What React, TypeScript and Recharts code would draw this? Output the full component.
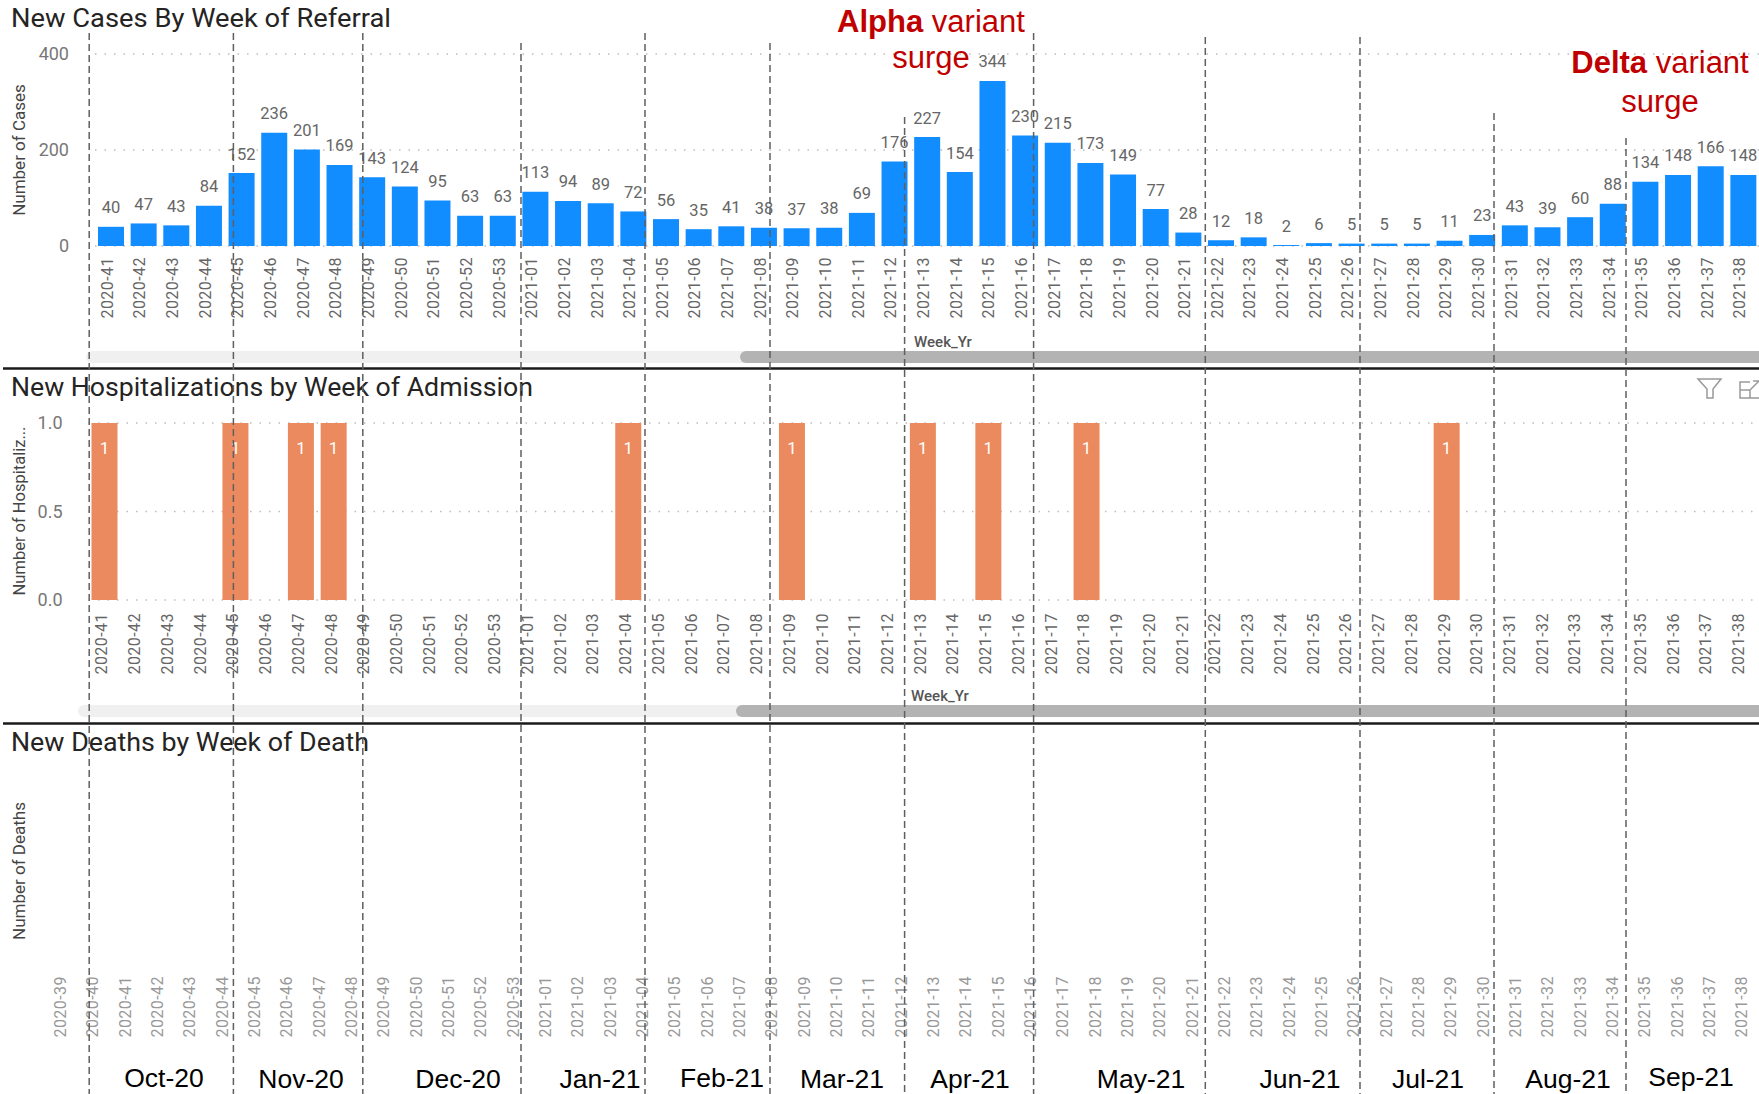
import { Bar, BarChart, CartesianGrid, LabelList, ReferenceLine, ComposedChart, Line, XAxis, YAxis } from "recharts";

const caseWeeks = [
  "2020-41", "2020-42", "2020-43", "2020-44", "2020-45", "2020-46", "2020-47", "2020-48", "2020-49", "2020-50",
  "2020-51", "2020-52", "2020-53", "2021-01", "2021-02", "2021-03", "2021-04", "2021-05", "2021-06", "2021-07",
  "2021-08", "2021-09", "2021-10", "2021-11", "2021-12", "2021-13", "2021-14", "2021-15", "2021-16", "2021-17",
  "2021-18", "2021-19", "2021-20", "2021-21", "2021-22", "2021-23", "2021-24", "2021-25", "2021-26", "2021-27",
  "2021-28", "2021-29", "2021-30", "2021-31", "2021-32", "2021-33", "2021-34", "2021-35", "2021-36", "2021-37",
  "2021-38",
];
const caseValues = [
  40, 47, 43, 84, 152, 236, 201, 169, 143, 124, 95, 63, 63, 113, 94, 89, 72, 56, 35, 41, 38, 37, 38, 69, 176, 227,
  154, 344, 230, 215, 173, 149, 77, 28, 12, 18, 2, 6, 5, 5, 5, 11, 23, 43, 39, 60, 88, 134, 148, 166, 148,
];
const hospValues = [
  1, null, null, null, 1, null, 1, 1, null, null, null, null, null, null, null, null, 1, null, null, null, null, 1,
  null, null, null, 1, null, 1, null, null, 1, null, null, null, null, null, null, null, null, null, null, 1, null,
  null, null, null, null, null, null, null, null,
];
const deathWeeks = ["2020-39", "2020-40", ...caseWeeks];
const deathValues = [
  0, 0, 0, 0, 0, 0, 0, 0, 0, 0, 0, 0, 0, 0, 0, 0, 0, 0, 0, 0, 0, 0, 0, 0, 0, 0, 0, 0, 0, 0, 0, 0, 0, 0, 0, 0, 0, 0,
  0, 0, 0, 0, 0, 0, 0, 0, 0, 0, 0, 0, 0, 0, 0,
];

const months = ["Oct-20", "Nov-20", "Dec-20", "Jan-21", "Feb-21", "Mar-21", "Apr-21", "May-21", "Jun-21", "Jul-21", "Aug-21", "Sep-21"];
const monthX = [164, 301, 458, 600, 722, 842, 970, 1141, 1300, 1428, 1568, 1691];
const monthY = [1087, 1088, 1088, 1088, 1087, 1088, 1088, 1088, 1088, 1088, 1088, 1086];

// month boundaries: x position and where each dashed line starts
const dividerX = [89.2, 233.4, 362.8, 521, 645, 770, 904.6, 1033.6, 1205.3, 1360, 1494, 1626];
const dividerTop = [33, 33, 33, 43, 33, 43, 117, 33, 37, 37, 113, 138];

const casesData = caseWeeks.map((week, i) => ({ week, cases: caseValues[i] }));
const hospData = caseWeeks.map((week, i) => ({ week, hosp: hospValues[i] }));
const deathsData = deathWeeks.map((week, i) => ({ week, deaths: deathValues[i] }));
const frameData = [
  { x: 0, y: 0 },
  { x: 1759, y: 1094 },
];

const FONT = "Roboto, sans-serif";
const ARIAL = "'Liberation Sans', Arial, sans-serif";
const RED = "#C00000";

function WeekTick({ x, y, payload, dx, fill }: any) {
  return (
    <text
      transform={`translate(${x + dx},${y}) rotate(-90)`}
      textAnchor="end"
      dominantBaseline="central"
      fontFamily={FONT}
      fontSize={16}
      letterSpacing={0.45}
      fill={fill}
    >
      {payload.value}
    </text>
  );
}

const box = (top: number): React.CSSProperties => ({ position: "absolute", left: 0, top });

export default function App() {
  return (
    <div style={{ position: "absolute", left: 0, top: 0, width: 1759, height: 1094, overflow: "hidden", background: "#fff" }}>
      <div style={box(0)}>
        <BarChart width={1760} height={340} data={casesData} margin={{ top: 54, right: 0, bottom: 0, left: 0 }}>
          <CartesianGrid vertical={false} stroke="#bdbdbd" strokeWidth={1.5} strokeDasharray="1.5 8" />
          <XAxis
            dataKey="week"
            interval={0}
            height={94}
            axisLine={false}
            tickLine={false}
            tickSize={0}
            tickMargin={11}
            tick={<WeekTick dx={-4} fill="#666" />}
          />
          <YAxis
            width={95}
            domain={[0, 400]}
            ticks={[0, 200, 400]}
            axisLine={false}
            tickLine={false}
            tickSize={0}
            tickMargin={26}
            tick={{ fontFamily: FONT, fontSize: 18, fill: "#777" }}
          />
          <Bar dataKey="cases" fill="#118DFF" barSize={26} isAnimationActive={false}>
            <LabelList dataKey="cases" position="top" offset={13.5} fontFamily={FONT} fontSize={16.5} fill="#666" />
          </Bar>
        </BarChart>
      </div>

      <div style={box(370)}>
        <BarChart width={1758} height={320} data={hospData} margin={{ top: 53, right: 0, bottom: 0, left: 0 }}>
          <CartesianGrid vertical={false} stroke="#bdbdbd" strokeWidth={1.5} strokeDasharray="1.5 8" />
          <XAxis
            dataKey="week"
            interval={0}
            height={90}
            axisLine={false}
            tickLine={false}
            tickSize={0}
            tickMargin={13}
            tick={<WeekTick dx={-3} fill="#666" />}
          />
          <YAxis
            width={88.5}
            domain={[0, 1]}
            ticks={[0, 0.5, 1]}
            tickFormatter={(v: number) => v.toFixed(1)}
            axisLine={false}
            tickLine={false}
            tickSize={0}
            tickMargin={26}
            tick={{ fontFamily: FONT, fontSize: 18, fill: "#777" }}
          />
          <Bar dataKey="hosp" fill="#EB8A5E" barSize={26} isAnimationActive={false}>
            <LabelList dataKey="hosp" position="insideTop" offset={19} fontFamily={FONT} fontSize={17} fill="#fff" />
          </Bar>
        </BarChart>
      </div>

      <div style={box(730)}>
        <BarChart width={1758} height={320} data={deathsData} margin={{ top: 20, right: 0, bottom: 0, left: 44.3 }}>
          <XAxis
            dataKey="week"
            interval={0}
            height={80}
            axisLine={false}
            tickLine={false}
            tickSize={0}
            tickMargin={6}
            tick={<WeekTick dx={0} fill="#999" />}
          />
          <YAxis hide domain={[0, 1]} />
          <Bar dataKey="deaths" fill="#118DFF" barSize={26} isAnimationActive={false} />
        </BarChart>
      </div>

      <div style={{ ...box(0), pointerEvents: "none" }}>
        <ComposedChart width={1759} height={1094} data={frameData} margin={{ top: 0, right: 0, bottom: 0, left: 0 }}>
          <XAxis type="number" dataKey="x" hide domain={[0, 1759]} allowDataOverflow />
          <YAxis type="number" dataKey="y" hide domain={[0, 1094]} reversed allowDataOverflow />
          <Line dataKey="y" stroke="none" dot={false} isAnimationActive={false} />

          {/* scrollbars */}
          <rect x={86} y={351} width={1680} height={12} rx={6} fill="#f0f0f0" />
          <rect x={740} y={351} width={1030} height={12} rx={6} fill="#b3b3b3" />
          <rect x={78} y={705} width={1690} height={12} rx={6} fill="#f0f0f0" />
          <rect x={736} y={705} width={1030} height={12} rx={6} fill="#b3b3b3" />

          {/* panel separators */}
          <line x1={3} x2={1759} y1={368.5} y2={368.5} stroke="#1a1a1a" strokeWidth={2.5} />
          <line x1={3} x2={1759} y1={723.5} y2={723.5} stroke="#1a1a1a" strokeWidth={2.5} />

          {/* titles */}
          <text x={11} y={27} fontFamily={FONT} fontSize={26} fill="#252423" textLength={380} lengthAdjust="spacingAndGlyphs">New Cases By Week of Referral</text>
          <text x={11} y={396} fontFamily={FONT} fontSize={26} fill="#252423" textLength={522} lengthAdjust="spacingAndGlyphs">New Hospitalizations by Week of Admission</text>
          <text x={11} y={751} fontFamily={FONT} fontSize={26} fill="#252423" textLength={358} lengthAdjust="spacingAndGlyphs">New Deaths by Week of Death</text>

          {/* axis titles */}
          <text transform="translate(19,150) rotate(-90)" textAnchor="middle" dominantBaseline="central" fontFamily={FONT} fontSize={17} fill="#444">Number of Cases</text>
          <text transform="translate(19,511) rotate(-90)" textAnchor="middle" dominantBaseline="central" fontFamily={FONT} fontSize={16.5} fill="#444">Number of Hospitaliz...</text>
          <text transform="translate(19,871) rotate(-90)" textAnchor="middle" dominantBaseline="central" fontFamily={FONT} fontSize={17} fill="#444">Number of Deaths</text>

          <text x={943} y={347} textAnchor="middle" fontFamily={FONT} fontSize={15} fontWeight={500} fill="#555">Week_Yr</text>
          <text x={940} y={701} textAnchor="middle" fontFamily={FONT} fontSize={15} fontWeight={500} fill="#555">Week_Yr</text>

          {/* annotations */}
          <text x={931} y={32} textAnchor="middle" fontFamily={ARIAL} fontSize={31} fill={RED}>
            <tspan fontWeight={700}>Alpha</tspan> variant
          </text>
          <text x={931} y={68} textAnchor="middle" fontFamily={ARIAL} fontSize={31} fill={RED}>surge</text>
          <text x={1660} y={73} textAnchor="middle" fontFamily={ARIAL} fontSize={31} fill={RED}>
            <tspan fontWeight={700}>Delta</tspan> variant
          </text>
          <text x={1660} y={112} textAnchor="middle" fontFamily={ARIAL} fontSize={31} fill={RED}>surge</text>

          {months.map((m, i) => (
            <text key={m} x={monthX[i]} y={monthY[i]} textAnchor="middle" fontFamily={ARIAL} fontSize={26.5} fill="#000">
              {m}
            </text>
          ))}

          {/* visual header icons */}
          <path d="M1698 379 L1721 379 L1713 389 L1713 398 L1707 398 L1707 389 Z" fill="none" stroke="#999" strokeWidth={1.5} />
          <path d="M1750 382 L1740 382 L1740 398 L1759 398 M1740 390 L1750 390 L1750 398 M1750 390 L1759 381 M1753 381 L1759 381" fill="none" stroke="#999" strokeWidth={1.5} />

          {dividerX.map((x, i) => (
            <ReferenceLine
              key={x}
              segment={[{ x, y: dividerTop[i] }, { x, y: 1094 }]}
              stroke="#5f5f5f"
              strokeWidth={1.5}
              strokeDasharray="7 4"
              ifOverflow="visible"
            />
          ))}
        </ComposedChart>
      </div>
    </div>
  );
}
